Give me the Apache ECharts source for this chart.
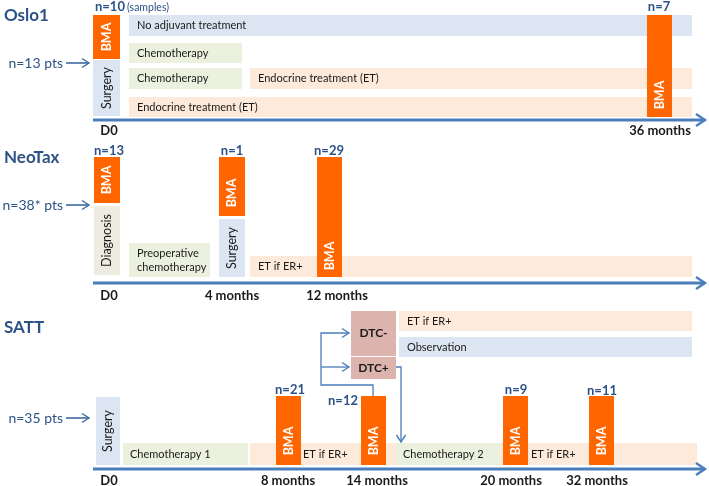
<!DOCTYPE html>
<html><head><meta charset="utf-8">
<script src="https://cdn.jsdelivr.net/npm/echarts@6/dist/echarts.min.js"></script>
<style>html,body{margin:0;padding:0;background:#fff}#c{width:709px;height:486px}</style>
</head><body><div id="c"></div>
<script>
// ---------- data ----------
const studies = ['Oslo1', 'NeoTax', 'SATT'];
const patients = ['n=13 pts', 'n=38* pts', 'n=35 pts'];
const timepoints = [
  ['D0', '36 months'],
  ['D0', '4 months', '12 months'],
  ['D0', '8 months', '14 months', '20 months', '32 months']
];
const bmaSamples = [[10, 7], [13, 1, 29], [21, 12, 9, 11]];
const osloTreatments = ['No adjuvant treatment', 'Chemotherapy', 'Chemotherapy', 'Endocrine treatment (ET)', 'Endocrine treatment (ET)'];
const neotaxSteps = ['Diagnosis', 'Preoperative\nchemotherapy', 'Surgery', 'ET if ER+'];
const sattSteps = ['Surgery', 'Chemotherapy 1', 'ET if ER+', 'Chemotherapy 2', 'DTC-', 'DTC+', 'ET if ER+', 'Observation'];

// ---------- layout (diagram units) ----------
const COL = {bma:'#FF6600', blue:'#DCE6F2', green:'#EBF1DE', peach:'#FDEADA', diag:'#EEECE1', dtc:'#DCB4AD'};
const NAVY = '#2D5287', AXIS = '#4A7EBB', TXT = '#1a1a1a';
const FONT = 'Lato, "Open Sans", sans-serif';

const axisY = [120, 283, 469];
const titleY = [16, 158, 328];
const patientY = [63, 205, 418];
const timeX = [[109, 660], [109, 232, 337], [109, 288, 377, 511, 597]];
const timeY = [131, 296, 481];
const bmaBoxes = [
  [[93,120,15,59,37],[647,672,15,117,95]],
  [[94,120,157,203,180],[219,245,157,216,193],[317,342,157,277,256]],
  [[276,301,396,465,441],[361,386,396,465,441],[503,528,396,465,441],[589,614,396,465,441]]
];
const nLabelPos = [
  [[95,7,'left'],[659,7,'center']],
  [[109,151,'center'],[232,151,'center'],[329,151,'center']],
  [[290,390,'center'],[343,401,'center'],[516,390,'center'],[602,391,'center']]
];

const shapes = [];
const texts = [];
const paths = [];

function box(x0,x1,y0,y1,fill,t,opt){ shapes.push(Object.assign({x0,x1,y0,y1,fill,t}, opt||{})); }

// Oslo1
box(129,692,15,36,COL.blue,osloTreatments[0],{tx:137});
box(129,242,43,63,COL.green,osloTreatments[1],{tx:137});
box(129,242,68,89,COL.green,osloTreatments[2],{tx:137});
box(250,692,68,89,COL.peach,osloTreatments[3],{tx:258});
box(129,692,97,117,COL.peach,osloTreatments[4],{tx:137});
box(93,120,60,116,COL.blue,'Surgery',{rot:true});
// NeoTax
box(94,120,206,275,COL.diag,neotaxSteps[0],{rot:true});
box(129,210,243,277,COL.green,neotaxSteps[1],{tx:137});
box(219,245,219,277,COL.blue,neotaxSteps[2],{rot:true});
box(250,692,256,277,COL.peach,neotaxSteps[3],{tx:258});
// SATT
box(96,120,397,465,COL.blue,sattSteps[0],{rot:true});
box(250,697,443,465,COL.peach,'');
box(123,248,443,465,COL.green,sattSteps[1],{tx:130});
box(396,500,443,465,COL.green,sattSteps[3],{tx:403});
box(351,396,311,356,COL.dtc,sattSteps[4],{center:true,bold:true,size:12});
box(351,396,357,379,COL.dtc,sattSteps[5],{center:true,bold:true,size:12});
box(399,692,311,331,COL.peach,sattSteps[6],{tx:407});
box(399,692,337,357,COL.blue,sattSteps[7],{tx:407});
texts.push({x:303,y:454,t:sattSteps[2],size:11,color:TXT,align:'left'});
texts.push({x:531,y:454,t:sattSteps[2],size:11,color:TXT,align:'left'});

// BMA boxes + n labels
bmaBoxes.forEach((arr,s)=>arr.forEach((b,i)=>{
  box(b[0],b[1],b[2],b[3],COL.bma,'BMA',{rot:true,ty:b[4],bold:true,color:'#fff',size:12.5});
  const p = nLabelPos[s][i];
  texts.push({x:p[0],y:p[1],t:'n='+bmaSamples[s][i],size:13,bold:true,color:NAVY,align:p[2]});
}));
texts.push({x:127,y:8,t:'(samples)',size:10.5,color:NAVY,align:'left'});

// titles, patients, time labels, axes
studies.forEach((s,i)=>{
  texts.push({x:4,y:titleY[i],t:s,size:17,bold:true,color:NAVY,align:'left'});
  texts.push({x:63,y:patientY[i],t:patients[i],size:14,color:NAVY,align:'right'});
  paths.push({pts:[[66,patientY[i]],[89,patientY[i]]],w:1.6,color:'#3D6AA0',arrow:[7,4.5]});
  timepoints[i].forEach((t,j)=>texts.push({x:timeX[i][j],y:timeY[i],t:t,size:13,bold:true,color:TXT}));
  paths.push({pts:[[93,axisY[i]],[705,axisY[i]]],w:3,color:AXIS,arrow:[9,6]});
});
// SATT connectors
paths.push({pts:[[373,396],[373,385],[321,385],[321,333],[349,333]],w:1.3,color:AXIS,arrow:[7,4.5]});
paths.push({pts:[[321,367],[349,367]],w:1.3,color:AXIS,arrow:[7,4.5]});
paths.push({pts:[[396,367],[401,367],[401,442]],w:1.3,color:AXIS,arrow:[7,4.5]});

// ---------- chart ----------
const chart = echarts.init(document.getElementById('c'), null, {renderer:'canvas'});
function fontOf(o){ return (o.bold?'bold ':'') + (o.size||11) + 'px ' + FONT; }

chart.setOption({
  animation:false,
  grid:{left:0,right:0,top:0,bottom:0},
  xAxis:{type:'value',min:0,max:709,show:false},
  yAxis:{type:'value',min:0,max:486,inverse:true,show:false},
  series:[
    {
      type:'custom', coordinateSystem:'cartesian2d', z:2,
      data: shapes.map(s=>[s.x0,s.y0,s.x1,s.y1]),
      renderItem(params, api){
        const s = shapes[params.dataIndex];
        const p0 = api.coord([api.value(0), api.value(1)]);
        const p1 = api.coord([api.value(2), api.value(3)]);
        const children = [{type:'rect', shape:{x:p0[0],y:p0[1],width:p1[0]-p0[0],height:p1[1]-p0[1]}, style:{fill:s.fill}}];
        if (s.t) {
          const st = {text:s.t, font:fontOf({bold:s.bold,size:s.size||(s.rot?12.5:11)}), fill:s.color||TXT, verticalAlign:'middle', lineHeight:14};
          let el;
          if (s.rot) {
            const c = api.coord([(s.x0+s.x1)/2, s.ty!=null?s.ty:(s.y0+s.y1)/2]);
            el = {type:'text', x:c[0], y:c[1], rotation:Math.PI/2, style:Object.assign(st,{align:'center'})};
          } else if (s.center) {
            const c = api.coord([(s.x0+s.x1)/2,(s.y0+s.y1)/2]);
            el = {type:'text', x:c[0], y:c[1], style:Object.assign(st,{align:'center'})};
          } else {
            const c = api.coord([s.tx,(s.y0+s.y1)/2]);
            el = {type:'text', x:c[0], y:c[1], style:Object.assign(st,{align:'left'})};
          }
          children.push(el);
        }
        return {type:'group', children};
      }
    },
    {
      type:'custom', coordinateSystem:'cartesian2d', z:3,
      data: texts.map(t=>[t.x,t.y]),
      renderItem(params, api){
        const t = texts[params.dataIndex];
        const c = api.coord([api.value(0), api.value(1)]);
        return {type:'text', x:c[0], y:c[1], style:{text:t.t, font:fontOf(t), fill:t.color, align:t.align||'center', verticalAlign:'middle'}};
      }
    },
    {
      type:'custom', coordinateSystem:'cartesian2d', z:4,
      data: paths.map((p,i)=>[p.pts[0][0],p.pts[0][1]]),
      renderItem(params, api){
        const p = paths[params.dataIndex];
        const pts = p.pts.map(q=>api.coord(q));
        const children = [{type:'polyline', shape:{points:pts}, style:{stroke:p.color, lineWidth:p.w, fill:null}}];
        if (p.arrow) {
          const a = pts[pts.length-1], b = pts[pts.length-2];
          let dx=a[0]-b[0], dy=a[1]-b[1]; const L=Math.hypot(dx,dy); dx/=L; dy/=L;
          const [len,wid] = p.arrow;
          children.push({type:'polyline', shape:{points:[[a[0]-dx*len-dy*wid, a[1]-dy*len+dx*wid],[a[0],a[1]],[a[0]-dx*len+dy*wid, a[1]-dy*len-dx*wid]]}, style:{stroke:p.color, lineWidth:Math.max(1.4,p.w*0.8), fill:null, lineJoin:'miter'}});
        }
        return {type:'group', children};
      }
    }
  ]
});
</script></body></html>
